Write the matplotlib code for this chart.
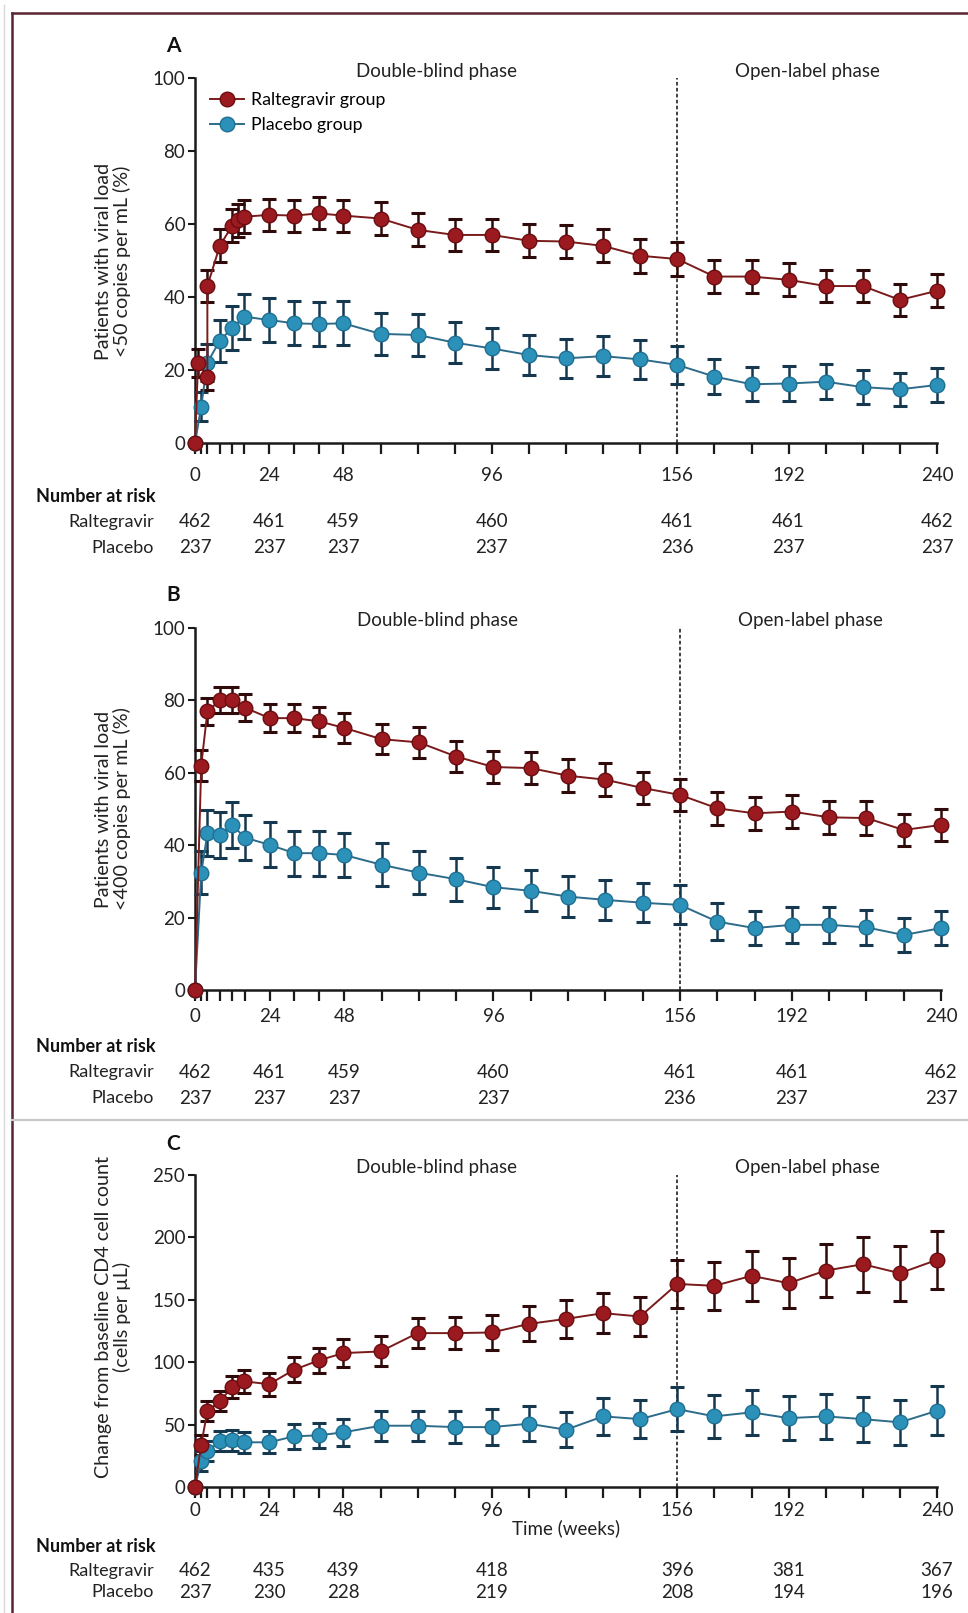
import matplotlib.pyplot as plt
import matplotlib.transforms as mtransforms
from matplotlib.lines import Line2D

plt.rcParams['font.family'] = ['Lato', 'DejaVu Sans']

# x positions (weeks)
weeks = [0, 2, 4, 8, 12, 16, 24, 32, 40, 48, 60, 72, 84, 96, 108, 120,
         132, 144, 156, 168, 180, 192, 204, 216, 228, 240]
label_weeks = [0, 24, 48, 96, 156, 192, 240]

# Panel A: viral load <50 copies per mL (%)
ral_a_weeks = [0, 1, 4, 4, 8, 12, 14, 16, 24, 32, 40, 48, 60, 72, 84, 96,
               108, 120, 132, 144, 156, 168, 180, 192, 204, 216, 228, 240]
ral_a = [0, 22, 18, 43, 54, 59.5, 61, 62, 62.5, 62.3, 62.9, 62.3, 61.5, 58.4,
         57.0, 57.0, 55.4, 55.2, 54.0, 51.3, 50.4, 45.6, 45.6, 44.7, 43.0,
         43.0, 39.2, 41.7]
ral_a_err = [0, 3.8, 3.5, 4.5, 4.5, 4.5, 4.5, 4.5, 4.4, 4.4, 4.4, 4.4, 4.4,
             4.5, 4.5, 4.5, 4.5, 4.5, 4.5, 4.6, 4.6, 4.5, 4.5, 4.5, 4.5, 4.5,
             4.4, 4.5]
plac_a = [0, 10, 22, 28, 31.5, 34.6, 33.7, 32.8, 32.6, 32.8, 29.9, 29.6, 27.5,
          25.9, 24.1, 23.2, 23.8, 22.9, 21.4, 18.2, 16.1, 16.3, 16.8, 15.3,
          14.7, 15.9]
plac_a_err = [0, 4, 5, 5.7, 6, 6.1, 6.1, 6, 6, 6, 5.8, 5.8, 5.7, 5.6, 5.5,
              5.4, 5.4, 5.3, 5.2, 4.9, 4.7, 4.7, 4.8, 4.6, 4.5, 4.7]

# Panel B: viral load <400 copies per mL (%)
ral_b = [0, 62, 77, 80, 80, 78, 75.1, 75.1, 74.2, 72.4, 69.3, 68.4, 64.5,
         61.6, 61.3, 59.2, 58.1, 55.8, 53.9, 50.2, 48.8, 49.3, 47.7, 47.5,
         44.2, 45.6]
ral_b_err = [0, 4.4, 3.8, 3.6, 3.6, 3.8, 3.9, 3.9, 4.0, 4.1, 4.2, 4.2, 4.4,
             4.4, 4.4, 4.5, 4.5, 4.5, 4.5, 4.6, 4.6, 4.6, 4.6, 4.6, 4.5, 4.5]
plac_b = [0, 32.4, 43.3, 42.9, 45.6, 42.1, 40.1, 37.8, 37.8, 37.3, 34.6, 32.4,
          30.6, 28.4, 27.4, 25.8, 24.9, 24.1, 23.5, 18.9, 17.1, 18.0, 18.0,
          17.3, 15.2, 17.1]
plac_b_err = [0, 6, 6.3, 6.3, 6.3, 6.3, 6.2, 6.2, 6.2, 6.2, 6.0, 6.0, 5.9,
              5.7, 5.7, 5.6, 5.5, 5.4, 5.4, 5.0, 4.8, 4.9, 4.9, 4.8, 4.6, 4.8]

# Panel C: change from baseline CD4 cell count (cells per uL)
ral_c = [0, 34, 60.6, 68.6, 80, 84.6, 82.4, 93.9, 101.4, 107.3, 108.6, 123.3,
         123.3, 123.8, 130.7, 134.7, 139.3, 136.6, 162.7, 161.2, 169.2, 163.3,
         173.4, 178.5, 171.3, 182]
ral_c_err = [0, 8, 8, 8, 9, 9, 9.3, 10, 10, 11, 12, 12, 13, 14, 14, 15, 16,
             16, 19, 19, 20, 20, 21, 22, 22, 23]
plac_c = [0, 20.5, 28.5, 36.6, 37.4, 35.8, 35.8, 40.6, 41.4, 43.8, 49.1, 49.1,
          48.0, 48.0, 50.7, 45.9, 56.6, 54.4, 62.4, 56.6, 59.8, 55.2, 56.6,
          54.4, 51.8, 61.1]
plac_c_err = [0, 8, 8, 8, 8.5, 8.5, 8.7, 10, 10, 11, 12, 12, 13, 14.4, 14,
              14, 15, 15, 17.7, 17, 18, 17.7, 18, 18, 18, 19.7]

# Number at risk
risk_ral_ab = [462, 461, 459, 460, 461, 461, 462]
risk_plac_ab = [237, 237, 237, 237, 236, 237, 237]
risk_ral_c = [462, 435, 439, 418, 396, 381, 367]
risk_plac_c = [237, 230, 228, 219, 208, 194, 196]

RED_FACE, RED_EDGE, RED_LINE, RED_ERR = '#9a1a1f', '#6b0d10', '#7a1a1a', '#2e0a0a'
BLUE_FACE, BLUE_EDGE, BLUE_LINE, BLUE_ERR = '#2b91b8', '#1f6f92', '#2d6b8a', '#16384f'
TXT = '#222222'
FS = 13.5

W, H = 968, 1613
fig = plt.figure(figsize=(W / 100, H / 100), dpi=100)


def fy(px):
    return 1 - px / H


def draw_series(ax, x, y, err, face, edge, line, ecol, label):
    ax.errorbar(x, y, yerr=err, fmt='none', ecolor=ecol, elinewidth=1.8,
                capsize=5, capthick=2.2, clip_on=False, zorder=3)
    h, = ax.plot(x, y, '-o', color=line, lw=1.4, ms=10.5, mfc=face, mec=edge,
                 mew=1.0, clip_on=False, zorder=4, label=label)
    return h


def setup_panel(rect, ymax, yticks, ylabel, letter, letter_y, label_y_center,
                risk_rows, risk_ral, risk_plac, xpad):
    l, t, r, b = rect
    ax = fig.add_axes([l / W, fy(b), (r - l) / W, (b - t) / H])
    ax.set_xlim(0, 240)
    ax.set_ylim(0, ymax)
    for s in ['top', 'right']:
        ax.spines[s].set_visible(False)
    for s in ['left', 'bottom']:
        ax.spines[s].set_linewidth(1.8)
        ax.spines[s].set_color('#1a1a1a')
    ax.set_xticks(weeks)
    ax.set_xticklabels([str(w) if w in label_weeks else '' for w in weeks])
    ax.set_yticks(yticks)
    ax.tick_params(axis='x', length=8, width=1.6, pad=xpad, labelsize=FS,
                   colors='#1a1a1a', labelcolor=TXT)
    ax.tick_params(axis='y', length=5, width=1.5, pad=2, labelsize=FS,
                   colors='#1a1a1a', labelcolor=TXT)
    ax.axvline(156, color='#333333', lw=1.3, dashes=(2, 1.3), zorder=2)
    top_val = ymax * (1 + 7 / (b - t))
    ax.text(78, top_val, 'Double-blind phase', ha='center', va='center',
            fontsize=FS, color=TXT)
    ax.text(198, top_val, 'Open-label phase', ha='center', va='center',
            fontsize=FS, color=TXT)
    fig.text(173 / W, fy(letter_y), letter, ha='center', va='center',
             fontsize=15, fontweight='bold', color='#111111')
    fig.text(113 / W, fy(label_y_center), ylabel, rotation=90, ha='center',
             va='center', multialignment='center', fontsize=14.2,
             color=TXT, linespacing=1.05)
    # risk table
    trans = mtransforms.blended_transform_factory(ax.transData, fig.transFigure)
    ny, ry, py = risk_rows
    fig.text(36 / W, fy(ny), 'Number at risk', ha='left', va='center',
             fontsize=13, fontweight='bold', color='#111111')
    fig.text(154 / W, fy(ry), 'Raltegravir', ha='right', va='center',
             fontsize=13, color=TXT)
    fig.text(154 / W, fy(py), 'Placebo', ha='right', va='center',
             fontsize=13, color=TXT)
    for w, a, p in zip(label_weeks, risk_ral, risk_plac):
        ax.text(w, fy(ry), str(a), transform=trans, ha='center', va='center',
                fontsize=FS, color=TXT)
        ax.text(w, fy(py), str(p), transform=trans, ha='center', va='center',
                fontsize=FS, color=TXT)
    return ax


# Panel A
ax_a = setup_panel((195, 78, 937, 443), 100, [0, 20, 40, 60, 80, 100],
                   'Patients with viral load\n<50 copies per mL (%)', 'A', 46,
                   261, (496, 522, 548), risk_ral_ab, risk_plac_ab, 9)
hb = draw_series(ax_a, weeks, plac_a, plac_a_err, BLUE_FACE, BLUE_EDGE,
                 BLUE_LINE, BLUE_ERR, 'Placebo group')
hr = draw_series(ax_a, ral_a_weeks, ral_a, ral_a_err, RED_FACE, RED_EDGE,
                 RED_LINE, RED_ERR, 'Raltegravir group')
ax_a.legend([hr, hb], ['Raltegravir group', 'Placebo group'], loc='upper left',
            bbox_to_anchor=(0.02, 0.962), frameon=False, fontsize=12.8,
            handlelength=1.9, handletextpad=0.4, labelspacing=0.5,
            borderpad=0, borderaxespad=0)

# Panel B
ax_b = setup_panel((195, 628, 941, 990), 100, [0, 20, 40, 60, 80, 100],
                   'Patients with viral load\n<400 copies per mL (%)', 'B', 595,
                   809, (1046, 1072, 1098), risk_ral_ab, risk_plac_ab, 5)
draw_series(ax_b, weeks, plac_b, plac_b_err, BLUE_FACE, BLUE_EDGE,
            BLUE_LINE, BLUE_ERR, 'Placebo group')
draw_series(ax_b, weeks, ral_b, ral_b_err, RED_FACE, RED_EDGE,
            RED_LINE, RED_ERR, 'Raltegravir group')

# Panel C
ax_c = setup_panel((195, 1175, 937, 1487), 250, [0, 50, 100, 150, 200, 250],
                   'Change from baseline CD4 cell count\n(cells per µL)', 'C',
                   1144, 1317, (1546, 1571, 1592), risk_ral_c, risk_plac_c, 3)
ax_c.text(120, fy(1528), 'Time (weeks)',
          transform=mtransforms.blended_transform_factory(ax_c.transData,
                                                          fig.transFigure),
          ha='center', va='center', fontsize=FS, color=TXT)
draw_series(ax_c, weeks, plac_c, plac_c_err, BLUE_FACE, BLUE_EDGE,
            BLUE_LINE, BLUE_ERR, 'Placebo group')
draw_series(ax_c, weeks, ral_c, ral_c_err, RED_FACE, RED_EDGE,
            RED_LINE, RED_ERR, 'Raltegravir group')

# frame lines
fig.add_artist(Line2D([12 / W, 1], [fy(13), fy(13)], transform=fig.transFigure,
                      color='#5a2533', lw=1.8))
fig.add_artist(Line2D([12 / W, 12 / W], [0, fy(13)], transform=fig.transFigure,
                      color='#5a2533', lw=1.8))
fig.add_artist(Line2D([4 / W, 4 / W], [0, fy(5)], transform=fig.transFigure,
                      color='#d8d8d8', lw=1.0))
fig.add_artist(Line2D([12 / W, 1], [fy(1120), fy(1120)], transform=fig.transFigure,
                      color='#c8c8c8', lw=1.6))

fig.savefig('out.png', dpi=100, facecolor='white')
